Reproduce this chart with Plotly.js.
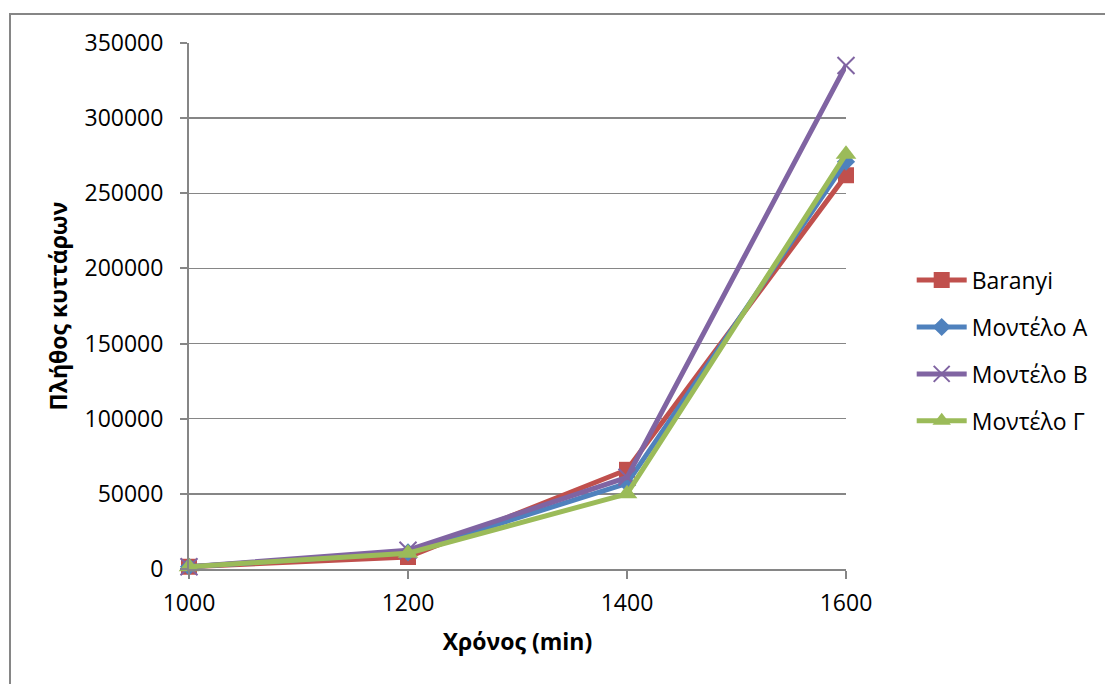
<!DOCTYPE html>
<html>
<head>
<meta charset="utf-8">
<script src="https://cdn.plot.ly/plotly-3.0.1.min.js"></script>
<style>html,body{margin:0;padding:0;background:#fff;}#chart{width:1105px;height:684px;}</style>
</head>
<body>
<div id="chart"></div>
<script>
const timeMin = [1000, 1200, 1400, 1600];
const baranyi = [1500, 8000, 66000, 262000];
const modelA = [1500, 11000, 57000, 271000];
const modelB = [1500, 12500, 61000, 335000];
const modelG = [1500, 10500, 50000, 276000];
const seriesNames = ['Baranyi', 'Μοντέλο Α', 'Μοντέλο Β', 'Μοντέλο Γ'];
const xTicks = [1000, 1200, 1400, 1600];
const yTicks = [0, 50000, 100000, 150000, 200000, 250000, 300000, 350000];

const colors = ['#C0504D', '#4F81BD', '#8064A2', '#9BBB59'];
const symbols = ['square', 'diamond', 'x-thin-open', 'triangle-up'];
const sizes = [16, 14, 17, 18];
const ys = [baranyi, modelA, modelB, modelG];

const traces = ys.map((y, i) => ({
  x: timeMin, y: y, name: seriesNames[i], type: 'scatter', mode: 'lines+markers',
  legendgroup: 'g' + i,
  line: {color: colors[i], width: 5},
  marker: {symbol: symbols[i], size: sizes[i], color: colors[i],
           line: {color: colors[i], width: i === 2 ? 2 : 0}},
  cliponaxis: false
}));

const font = {family: 'Open Sans, Noto Sans, sans-serif', size: 23, color: '#000'};
const layout = {
  width: 1105, height: 684,
  margin: {l: 189, r: 259, t: 43, b: 115},
  paper_bgcolor: '#fff', plot_bgcolor: '#fff',
  font: font,
  showlegend: true,
  legend: {x: 1.1, y: 0.59, xanchor: 'left', yanchor: 'top', font: font,
           tracegroupgap: 14, itemwidth: 50, bgcolor: 'rgba(0,0,0,0)'},
  xaxis: {range: [1000, 1600], tickvals: xTicks, ticktext: xTicks.map(String),
          showgrid: false, zeroline: false, showline: true, linecolor: '#868686', linewidth: 2,
          ticks: 'outside', ticklen: 8, tickcolor: '#868686', tickwidth: 2,
          ticklabelstandoff: 4,
          tickfont: font,
          title: {text: '<b>Χρόνος (min)</b>', font: font, standoff: 17}},
  yaxis: {range: [0, 350000], tickvals: yTicks, ticktext: yTicks.map(String),
          showgrid: true, gridcolor: '#868686', gridwidth: 1.5, zeroline: false,
          showline: true, linecolor: '#868686', linewidth: 2,
          ticks: 'outside', ticklen: 7, tickcolor: '#868686', tickwidth: 2,
          ticklabelstandoff: 12,
          tickfont: font,
          title: {text: '<b>Πλήθος κυττάρων</b>', font: font, standoff: 10}},
  shapes: [{type: 'rect', xref: 'paper', yref: 'paper',
            x0: (10 - 189) / 657, x1: 2, y0: -2, y1: (569 - 14) / 526,
            line: {color: '#868686', width: 2}, fillcolor: 'rgba(0,0,0,0)', layer: 'below'}]
};
Plotly.newPlot('chart', traces, layout, {displayModeBar: false, staticPlot: true});
</script>
</body>
</html>
